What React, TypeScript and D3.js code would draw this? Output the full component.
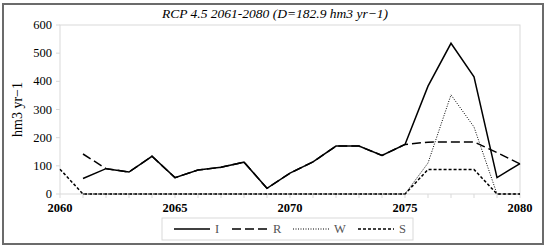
import React, { useRef, useEffect } from 'react';
import * as d3 from 'd3';

const years = d3.range(2060, 2081);
// null = no value for that year
const seriesI = [null, 55, 90, 78, 134, 58, 85, 95, 113, 20, 74, 114, 170, 170, 137, 176, 383, 535, 416, 58, 108];
const seriesR = [null, 142, 90, 78, 134, 58, 85, 95, 113, 20, 74, 114, 170, 170, 137, 176, 184, 185, 185, 147, 107];
const seriesW = [null, 0, 0, 0, 0, 0, 0, 0, 0, 0, 0, 0, 0, 0, 0, 0, 110, 352, 238, 0, 0];
const seriesS = [88, 0, 0, 0, 0, 0, 0, 0, 0, 0, 0, 0, 0, 0, 0, 0, 87, 87, 87, 0, 0];
const yTicks = [0, 100, 200, 300, 400, 500, 600];
const xTicks = [2060, 2065, 2070, 2075, 2080];
const legendNames = ['I', 'R', 'W', 'S'];

const App = () => {
  const svgRef = useRef(null);

  useEffect(() => {
    const svg = d3.select(svgRef.current);
    svg.selectAll('*').remove();

    const width = 550;
    const height = 248;
    const margin = { top: 25, right: 30, bottom: 54, left: 60 };
    const font = "'Liberation Serif', 'DejaVu Serif', serif";

    svg.attr('width', width).attr('height', height)
       .style('position', 'absolute').style('left', 0).style('top', 0)
       .style('font-family', font);

    // outer frame
    svg.append('rect')
       .attr('x', 3).attr('y', 4)
       .attr('width', 540).attr('height', 240)
       .attr('fill', 'white')
       .attr('stroke', '#6b6b6b')
       .attr('stroke-width', 2);

    const x = d3.scaleLinear()
                .domain([2060, 2080])
                .range([margin.left, width - margin.right]);

    const y = d3.scaleLinear()
                .domain([0, 600])
                .range([height - margin.bottom, margin.top]);

    // plot area border
    svg.append('rect')
       .attr('x', x(2060)).attr('y', y(600))
       .attr('width', x(2080) - x(2060)).attr('height', y(0) - y(600))
       .attr('fill', 'none')
       .attr('stroke', '#d9d9d9');

    // y ticks
    const yg = svg.append('g');
    yg.selectAll('line').data(yTicks).join('line')
      .attr('x1', x(2060) - 4).attr('x2', x(2060))
      .attr('y1', d => y(d)).attr('y2', d => y(d))
      .attr('stroke', '#d9d9d9');
    yg.selectAll('text').data(yTicks).join('text')
      .attr('x', x(2060) - 8).attr('y', d => y(d) + 4)
      .attr('text-anchor', 'end')
      .attr('font-size', 12.5)
      .text(d => d);

    // x ticks
    const xg = svg.append('g');
    xg.selectAll('line').data(years).join('line')
      .attr('x1', d => x(d)).attr('x2', d => x(d))
      .attr('y1', y(0)).attr('y2', y(0) + 4)
      .attr('stroke', '#d9d9d9');
    xg.selectAll('text').data(xTicks).join('text')
      .attr('x', d => x(d)).attr('y', y(0) + 18)
      .attr('text-anchor', 'middle')
      .attr('font-size', 12.5)
      .attr('font-weight', 'bold')
      .text(d => d);

    // axis title
    svg.append('text')
       .attr('transform', `translate(22, ${(y(0) + y(600)) / 2}) rotate(-90)`)
       .attr('text-anchor', 'middle')
       .attr('font-size', 14)
       .text('hm3 yr\u22121');

    // chart title
    svg.append('text')
       .attr('x', width / 2).attr('y', 18)
       .attr('text-anchor', 'middle')
       .attr('font-size', 13.5)
       .attr('font-style', 'italic')
       .text('RCP 4.5 2061-2080 (D=182.9 hm3 yr\u22121)');

    const styles = [
      { data: seriesI, dash: null, width: 1.5 },
      { data: seriesR, dash: '9,4', width: 1.5 },
      { data: seriesW, dash: '1,1.5', width: 1 },
      { data: seriesS, dash: '3,2', width: 1.5 },
    ];

    const line = d3.line()
                   .defined(d => d[1] !== null)
                   .x(d => x(d[0]))
                   .y(d => y(d[1]));

    // draw back to front: S, W, R, I
    [...styles].reverse().forEach(s => {
      svg.append('path')
         .datum(years.map((yr, i) => [yr, s.data[i]]))
         .attr('fill', 'none')
         .attr('stroke', 'black')
         .attr('stroke-width', s.width)
         .attr('stroke-dasharray', s.dash)
         .attr('d', line);
    });

    // legend
    const lg = svg.append('g');
    lg.append('rect')
      .attr('x', 162).attr('y', 218)
      .attr('width', 251).attr('height', 22)
      .attr('fill', 'white')
      .attr('stroke', '#d9d9d9');
    const lx = [174, 232, 293, 358];
    legendNames.forEach((name, i) => {
      lg.append('line')
        .attr('x1', lx[i]).attr('x2', lx[i] + 36)
        .attr('y1', 229).attr('y2', 229)
        .attr('stroke', 'black')
        .attr('stroke-width', styles[i].width)
        .attr('stroke-dasharray', styles[i].dash);
      lg.append('text')
        .attr('x', lx[i] + 41).attr('y', 233)
        .attr('font-size', 12.5)
        .attr('fill', '#555')
        .text(name);
    });
  }, []);

  return <svg ref={svgRef}></svg>;
};

export default App;
